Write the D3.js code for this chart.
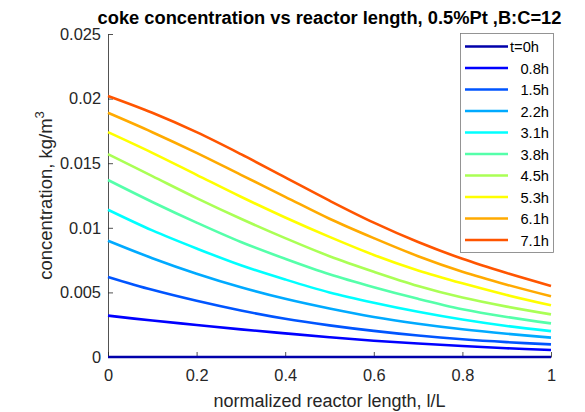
<!DOCTYPE html>
<html>
<head>
<meta charset="utf-8">
<script src="https://cdn.jsdelivr.net/npm/d3@7"></script>
<style>
  body { margin: 0; background: #fff; }
  text { font-family: "Liberation Sans", Arial, sans-serif; }
</style>
</head>
<body>
<div id="chart"></div>
<script>
// normalized reactor length positions
var positions = [0, 0.1, 0.2, 0.3, 0.4, 0.5, 0.6, 0.7, 0.8, 0.9, 1.0];

var seriesNames = ['t=0h', '0.8h', '1.5h', '2.2h', '3.1h', '3.8h', '4.5h', '5.3h', '6.1h', '7.1h'];

// coke concentration (kg/m^3), one array per time
var c_0h  = [0, 0, 0, 0, 0, 0, 0, 0, 0, 0, 0];
var c_08h = [0.0032, 0.00282, 0.00248, 0.00214, 0.00183, 0.00153, 0.00126, 0.00104, 0.00085, 0.00068, 0.00054];
var c_15h = [0.0062, 0.0052, 0.00435, 0.0036, 0.00296, 0.00245, 0.00202, 0.00166, 0.00137, 0.00115, 0.00098];
var c_22h = [0.0090, 0.00765, 0.00645, 0.0054, 0.0045, 0.00375, 0.0031, 0.00258, 0.00215, 0.0018, 0.0015];
var c_31h = [0.0114, 0.0098, 0.0084, 0.0071, 0.0060, 0.0050, 0.0042, 0.0035, 0.0029, 0.0024, 0.0020];
var c_38h = [0.0137, 0.0120, 0.0104, 0.0089, 0.0076, 0.0064, 0.0054, 0.0045, 0.0037, 0.0031, 0.0026];
var c_45h = [0.0157, 0.0140, 0.0123, 0.0107, 0.0092, 0.0078, 0.0066, 0.0055, 0.0046, 0.0039, 0.0033];
var c_53h = [0.0174, 0.0158, 0.0141, 0.0124, 0.0108, 0.0093, 0.0079, 0.0067, 0.0057, 0.0048, 0.0040];
var c_61h = [0.0189, 0.0174, 0.0158, 0.0141, 0.0124, 0.0107, 0.0092, 0.0078, 0.0066, 0.0056, 0.0047];
var c_71h = [0.0202, 0.0189, 0.0174, 0.0157, 0.0139, 0.0121, 0.0104, 0.0089, 0.0076, 0.0065, 0.0055];

var seriesValues = [c_0h, c_08h, c_15h, c_22h, c_31h, c_38h, c_45h, c_53h, c_61h, c_71h];

// jet(10)
var seriesColors = ['#0000aa', '#0000ff', '#0055ff', '#00aaff', '#00ffff',
                    '#55ffaa', '#aaff55', '#ffff00', '#ffaa00', '#ff5500'];

var xTicks = [0, 0.2, 0.4, 0.6, 0.8, 1];
var xTickLabels = ['0', '0.2', '0.4', '0.6', '0.8', '1'];
var yTicks = [0, 0.005, 0.01, 0.015, 0.02, 0.025];
var yTickLabels = ['0', '0.005', '0.01', '0.015', '0.02', '0.025'];

var width = 585, height = 412;
var margins = {left: 108, right: 34, top: 34, bottom: 55};
var axisColor = '#262626';

var svg = d3.select('#chart').append('svg')
    .attr('width', width)
    .attr('height', height);

var x = d3.scaleLinear().domain([0, 1]).range([margins.left, width - margins.right]);
var y = d3.scaleLinear().domain([0, 0.025]).range([height - margins.bottom, margins.top]);

// axes, ticks pointing inward like matlab
var xAxis = d3.axisBottom(x)
    .tickValues(xTicks)
    .tickFormat(function(d, i) { return xTickLabels[i]; })
    .tickSizeInner(-5)
    .tickSizeOuter(0)
    .tickPadding(12);

var yAxis = d3.axisLeft(y)
    .tickValues(yTicks)
    .tickFormat(function(d, i) { return yTickLabels[i]; })
    .tickSizeInner(-5)
    .tickSizeOuter(0)
    .tickPadding(7);

var gx = svg.append('g')
    .attr('transform', 'translate(0,' + (height - margins.bottom) + ')')
    .call(xAxis);
var gy = svg.append('g')
    .attr('transform', 'translate(' + margins.left + ',0)')
    .call(yAxis);

[gx, gy].forEach(function(g) {
    g.selectAll('path, line').attr('stroke', axisColor).attr('stroke-width', 0.8);
    g.selectAll('text')
        .attr('fill', axisColor)
        .style('font-size', '16.4px')
        .style('font-family', '"Liberation Sans", Arial, sans-serif');
});

// curves
var line = d3.line()
    .x(function(d, i) { return x(positions[i]); })
    .y(function(d) { return y(d); })
    .curve(d3.curveCatmullRom.alpha(0.5));

svg.append('g').selectAll('path')
    .data(seriesValues)
    .enter().append('path')
    .attr('d', line)
    .attr('fill', 'none')
    .attr('stroke', function(d, i) { return seriesColors[i]; })
    .attr('stroke-width', 2.6);

// title
svg.append('text')
    .attr('x', (x(0) + x(1)) / 2)
    .attr('y', 24)
    .attr('text-anchor', 'middle')
    .style('font-size', '18.3px')
    .style('font-weight', 'bold')
    .attr('fill', '#000')
    .text('coke concentration vs reactor length, 0.5%Pt ,B:C=12');

// axis labels
svg.append('text')
    .attr('x', (x(0) + x(1)) / 2)
    .attr('y', 407)
    .attr('text-anchor', 'middle')
    .style('font-size', '18px')
    .attr('fill', axisColor)
    .text('normalized reactor length, l/L');

var ylab = svg.append('text')
    .attr('transform', 'translate(52,' + ((y(0) + y(0.025)) / 2) + ') rotate(-90)')
    .attr('text-anchor', 'middle')
    .style('font-size', '18.5px')
    .attr('fill', axisColor);
ylab.append('tspan').text('concentration, kg/m');
ylab.append('tspan').attr('dy', -8).style('font-size', '13px').text('3');

// legend
var legend = svg.append('g');
legend.append('rect')
    .attr('x', 460.5).attr('y', 33.5)
    .attr('width', 93).attr('height', 219)
    .attr('fill', '#fff')
    .attr('stroke', '#7a7a7a')
    .attr('stroke-width', 0.8);

var rows = legend.selectAll('g.row')
    .data(seriesNames)
    .enter().append('g')
    .attr('class', 'row')
    .attr('transform', function(d, i) { return 'translate(0,' + (46.5 + i * 21.5) + ')'; });

rows.append('line')
    .attr('x1', 465).attr('x2', 508)
    .attr('stroke', function(d, i) { return seriesColors[i]; })
    .attr('stroke-width', 2.6);

rows.append('text')
    .attr('x', function(d, i) { return i === 0 ? 510 : 549; })
    .attr('y', 5.5)
    .attr('text-anchor', function(d, i) { return i === 0 ? 'start' : 'end'; })
    .style('font-size', '14.7px')
    .attr('fill', '#000')
    .text(function(d) { return d; });
</script>
</body>
</html>
